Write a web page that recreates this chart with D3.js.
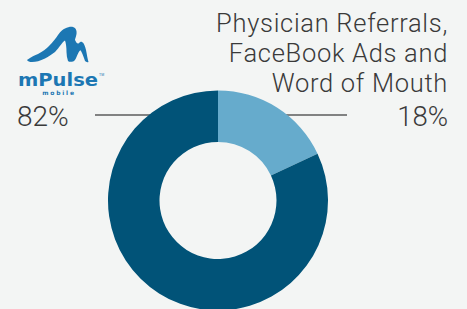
<!DOCTYPE html>
<html lang="en">
	<head>
		<meta charset="utf-8">
		<title>mPulse share</title>
		<script src="https://cdn.jsdelivr.net/npm/d3@7"></script>
		<style type="text/css">
			body {
				margin: 0;
				background-color: #f3f5f4;
				font-family: "Roboto", "Open Sans", Arial, sans-serif;
			}
			.label {
				font-weight: 300;
				fill: #3a3a3a;
			}
		</style>
	</head>
	<body>
		<script type="text/javascript">

			// Data
			var categories = ["Physician Referrals, FaceBook Ads and Word of Mouth", "mPulse"];
			var values = [18, 82];
			var labelLines = ["Physician Referrals,", "FaceBook Ads and", "Word of Mouth"];
			var colors = ["#66abcc", "#015378"];

			var w = 467;
			var h = 309;

			var svg = d3.select("body")
				.append("svg")
				.attr("width", w)
				.attr("height", h);

			svg.append("rect")
				.attr("width", w)
				.attr("height", h)
				.attr("fill", "#f3f5f4");

			// center & radii of the donut
			var cx = 218, cy = 200.5;
			var outerR = 110, innerR = 58.5;

			// leader line sits behind the donut
			svg.append("line")
				.attr("x1", 95)
				.attr("x2", 347)
				.attr("y1", 115)
				.attr("y2", 115)
				.attr("stroke", "#111")
				.attr("stroke-width", 1.2);

			var pie = d3.pie().sort(null);
			var arc = d3.arc().innerRadius(innerR).outerRadius(outerR);

			var color = d3.scaleOrdinal().domain(categories).range(colors);

			svg.append("g")
				.attr("transform", "translate(" + cx + "," + cy + ")")
				.selectAll("path")
				.data(pie(values))
				.enter()
				.append("path")
				.attr("d", arc)
				.attr("fill", function(d, i) { return color(categories[i]); });

			// right label block (one text, wrapped with tspans)
			var fmt = function(v) { return v + "%"; };
			var right = svg.append("g").attr("class", "label")
				.attr("text-anchor", "end");

			right.append("text")
				.attr("y", 32)
				.attr("font-size", "25.5px")
				.attr("letter-spacing", "0.7px")
				.selectAll("tspan")
				.data(labelLines)
				.enter()
				.append("tspan")
				.attr("x", 448)
				.attr("dy", function(d, i) { return i ? 30 : 0; })
				.text(function(d) { return d; });

			right.append("text")
				.attr("x", 448)
				.attr("y", 126)
				.attr("font-size", "27.5px")
				.text(fmt(values[0]));

			svg.append("text")
				.attr("class", "label")
				.attr("x", 17)
				.attr("y", 126)
				.attr("font-size", "28px")
				.text(fmt(values[1]));

			// mPulse logo
			var logo = svg.append("g").attr("fill", "#1c77b3");

			logo.append("path")
				.attr("d", "M27,60 C31,57 35,55 38,54 C43,51 46,49 48,47 C53,42 56,38 58,35 " +
					"C61,31 63,29 65,28.5 C68,27 71,26.5 73,27 C76,28 77,31 76.5,34 " +
					"C76,37 75,39 75,40 C76,42 77,44 78.5,43.5 C80,42 81,41.5 82,42 " +
					"C84,43 85,46 86,50 C87,55 87.5,59 88.5,62 C87,62.5 86,62 85,61 " +
					"C84,58 83,55 82,53 C81,51 80.5,50 80,50.5 C78.5,52 77.5,55 76.5,57 " +
					"C75.5,59.5 74.5,61 73,61.5 C71,62 69,62 68,61 C67,58 66.5,55 66.5,52 " +
					"C66.5,48 66,43 65,40.5 C63.5,41.5 62,43 61.5,44 C59,47 57,50 55,52 " +
					"C51,55 48,57 45,58.5 C40,61 36,62 32,62 C29.5,62 28,61.5 27,60 Z");

			logo.append("text")
				.attr("x", 18)
				.attr("y", 86)
				.attr("font-family", "'DejaVu Sans', Arial, sans-serif")
				.attr("font-weight", "bold")
				.attr("font-size", "18.5px")
				.attr("textLength", 80)
				.attr("lengthAdjust", "spacingAndGlyphs")
				.text("mPulse");

			logo.append("text")
				.attr("x", 99)
				.attr("y", 76)
				.attr("font-size", "3.5px")
				.attr("font-family", "Arial, sans-serif")
				.text("TM");

			logo.append("text")
				.attr("x", 59)
				.attr("y", 95)
				.attr("text-anchor", "middle")
				.attr("font-family", "'DejaVu Sans', Arial, sans-serif")
				.attr("font-weight", "bold")
				.attr("font-size", "6px")
				.attr("letter-spacing", "1.8px")
				.text("mobile");
		</script>
	</body>
</html>
